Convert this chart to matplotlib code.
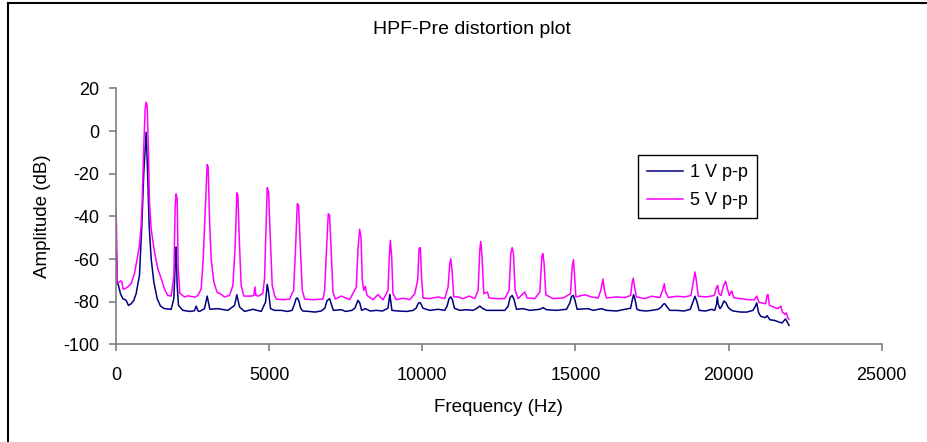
import matplotlib
matplotlib.use("Agg")
import matplotlib.pyplot as plt
from matplotlib.lines import Line2D

plt.rcParams["font.family"] = ["Liberation Sans", "DejaVu Sans"]

# spectrum, 1 V p-p (navy)
freq_1v = [
    0, 38, 81, 147, 223, 332, 408, 495, 582, 658,
    767, 844, 909, 985, 1029, 1083, 1149, 1236, 1345, 1454,
    1584, 1802, 1889, 1933, 1965, 1998, 2042, 2183, 2401, 2560,
    2619, 2680, 2728, 2891, 2978, 3065, 3327, 3653, 3871, 3947,
    4034, 4198, 4470, 4742, 4884, 4938, 4982, 5047, 5178, 5400,
    5600, 5750, 5830, 5880, 5920, 5970, 6030, 6100, 6300, 6500,
    6700, 6820, 6890, 6976, 7040, 7100, 7357, 7500, 7700, 7800,
    7870, 7902, 7960, 8020, 8140, 8300, 8500, 8700, 8880, 8925,
    8940, 8965, 9010, 9200, 9500, 9700, 9800, 9860, 9895, 9940,
    10027, 10245, 10517, 10735, 10811, 10876, 10931, 10985, 11050, 11225,
    11443, 11660, 11791, 11878, 11965, 12096, 12422, 12695, 12804, 12869,
    12935, 13000, 13076, 13294, 13511, 13838, 13947, 14056, 14383, 14710,
    14819, 14873, 14927, 14982, 15058, 15417, 15581, 15690, 15853, 16017,
    16343, 16560, 16800, 16845, 16900, 16950, 17010, 17100, 17300, 17500,
    17700, 17800, 17880, 17920, 18000, 18080, 18300, 18550, 18750, 18840,
    18905, 18970, 19040, 19250, 19450, 19550, 19610, 19634, 19660, 19720,
    19780, 19850, 19920, 19980, 20050, 20150, 20400, 20600, 20800, 20880,
    20920, 20980, 21050, 21200, 21260, 21350, 21500, 21650, 21750, 21860,
    21900, 21976,
]
db_1v = [
    -50, -70.7, -72.3, -76.2, -78.5, -79.3, -81.7, -80.9, -79.3, -76.2,
    -67.6, -44.2, -19.2, -0.5, -17.6, -44.2, -59.8, -70.7, -78.5, -82,
    -83.2, -83.5, -78.5, -62.9, -54.3, -72.3, -81.7, -84, -84.5, -84.2,
    -82, -84.3, -84.5, -83.2, -77.3, -83.5, -83.2, -84, -81.7, -76.7,
    -82.4, -84.5, -83.5, -84.5, -80.1, -71.8, -75.4, -83.2, -84, -84,
    -84.5, -84, -81, -78.5, -78.2, -79.5, -83, -84.3, -84.5, -84.8,
    -84.3, -83, -79.5, -78.5, -81.5, -84, -83.7, -84.5, -84, -83,
    -80.5, -79.3, -80.5, -84, -83.2, -84.3, -84, -84.3, -83, -78,
    -76.6, -79, -84, -84.3, -84.5, -84, -83, -81, -80.4, -80.5,
    -83, -84, -83.5, -84, -82, -78.5, -77.7, -79, -83, -84,
    -83.7, -84, -83, -82, -83, -84, -84, -84, -82, -78,
    -77, -79, -83.5, -83.2, -84, -83.5, -82.7, -83.7, -84, -83.5,
    -80.5, -77.5, -77, -79, -83.5, -83.2, -84, -83.7, -83.2, -84,
    -84.3, -83.7, -83, -80, -76.6, -79, -83.5, -84, -84.3, -84,
    -83.5, -82.5, -81, -80.9, -82.5, -84, -84, -84.3, -83.5, -80,
    -77.4, -80, -84, -84.3, -83.5, -84, -81, -77.7, -81, -83.2,
    -82, -79.6, -80.5, -82.4, -83.5, -84.3, -84.8, -84.8, -84, -82,
    -80.5, -85, -86.8, -87.4, -86.5, -88.4, -88.7, -89.5, -89.9, -88,
    -89, -91,
]

# spectrum, 5 V p-p (magenta)
freq_5v = [
    0, 16, 45, 100, 150, 190, 234, 300, 386, 495,
    604, 713, 767, 822, 855, 909, 953, 985, 1018, 1061,
    1094, 1149, 1258, 1366, 1475, 1584, 1693, 1802, 1889, 1933,
    1965, 1998, 2031, 2085, 2238, 2350, 2456, 2580, 2673, 2782,
    2847, 2913, 2978, 3011, 3054, 3109, 3196, 3305, 3381, 3544,
    3708, 3817, 3893, 3947, 3980, 4034, 4089, 4176, 4416, 4503,
    4536, 4568, 4655, 4797, 4851, 4906, 4938, 4982, 5036, 5102,
    5178, 5234, 5452, 5669, 5800, 5865, 5920, 5963, 6018, 6083,
    6160, 6432, 6758, 6813, 6878, 6932, 6976, 7030, 7085, 7161,
    7357, 7630, 7847, 7902, 7956, 8000, 8043, 8087, 8141, 8196,
    8392, 8555, 8719, 8882, 8925, 8958, 9002, 9045, 9154, 9372,
    9590, 9753, 9851, 9895, 9938, 9982, 10027, 10245, 10517, 10735,
    10844, 10898, 10931, 10974, 11029, 11170, 11334, 11530, 11715, 11824,
    11878, 11911, 11954, 12009, 12129, 12183, 12422, 12695, 12836, 12891,
    12935, 12978, 13032, 13130, 13348, 13424, 13675, 13838, 13904, 13936,
    13980, 14034, 14274, 14601, 14840, 14895, 14938, 14971, 15015, 15309,
    15526, 15744, 15831, 15897, 15951, 16017, 16343, 16618, 16803, 16857,
    16890, 16934, 16988, 17271, 17489, 17761, 17848, 17903, 17946, 18033,
    18306, 18578, 18774, 18839, 18905, 18948, 19013, 19286, 19536, 19612,
    19645, 19688, 19754, 19841, 19906, 19961, 20026, 20102, 20168, 20375,
    20647, 20843, 20919, 20995, 21104, 21213, 21257, 21290, 21333, 21464,
    21605, 21681, 21703, 21758, 21845, 21888, 21932, 21976,
]
db_5v = [
    -36.4, -44, -70.7, -70.8, -70.2, -70.5, -74.1, -73.8, -73, -71.5,
    -66.8, -58.2, -53.5, -44.2, -33.3, -6.7, 10.5, 13.6, 12, -9.8,
    -33.3, -45.8, -56.7, -64.5, -69, -74, -77, -77.3, -68, -35,
    -29.4, -32, -64, -76, -77.7, -77.2, -77.5, -77.8, -77, -74,
    -60, -38, -15.7, -16.8, -41, -60, -70.7, -75.7, -76, -77.7,
    -77, -72.4, -53.7, -28.9, -30, -53.7, -72.4, -77.3, -77.3, -77,
    -73, -77, -77.3, -76, -69, -41, -26.5, -28.5, -49, -72.4,
    -77, -78.7, -79, -78.7, -74.6, -54.3, -34, -34.8, -54.3, -74.6,
    -78.7, -79, -78.7, -74.6, -54.3, -38.7, -39.5, -57.4, -75.4, -78.7,
    -77.3, -79, -73.1, -55, -46, -49.6, -69.9, -74.6, -72.7, -77,
    -79, -76.6, -79.1, -74.6, -59, -51.2, -59, -76.2, -79, -78.3,
    -79, -76.2, -69.9, -55.1, -54.6, -69.9, -78.2, -78.5, -77.7, -78.5,
    -73, -62.1, -59.8, -65.3, -77.7, -77.7, -78.5, -77.3, -78.5, -74.6,
    -55.9, -51.7, -59, -76.2, -75.4, -78.2, -78.5, -78.5, -74.6, -57.4,
    -54.6, -57.4, -74.6, -78.5, -75.4, -78.2, -78.5, -75.4, -59, -57.4,
    -62.1, -76.7, -78.5, -78.2, -76.2, -63.7, -60.2, -67.2, -77.7, -76.7,
    -77.7, -78.2, -74.6, -69.3, -74.6, -78.2, -77.7, -78, -77, -70.7,
    -68.9, -73.1, -77.7, -78.5, -77.4, -78, -74.6, -71.5, -75.4, -78,
    -77.4, -77.7, -77, -71.5, -66, -69.9, -77.4, -77.7, -77, -73.1,
    -72.3, -76.2, -77, -72.3, -70.4, -73.8, -77, -74.9, -78, -78.5,
    -79, -79, -77.3, -80.1, -80.6, -80.9, -77, -76.6, -81.6, -82.4,
    -83.2, -82.4, -82, -84.8, -85.9, -85.2, -87.4, -88.2,
]

series_labels = ["1 V p-p", "5 V p-p"]
x_ticks = [0, 5000, 10000, 15000, 20000, 25000]
y_ticks = [-100, -80, -60, -40, -20, 0, 20]

NAVY = "#000080"
MAGENTA = "#FF00FF"
GRAY = "#808080"

fig = plt.figure(figsize=(9.27, 4.42), dpi=100)
ax = fig.add_axes([0.1251, 0.2206, 0.826, 0.5792])

ax.plot(freq_1v, db_1v, color=NAVY, lw=1.1)
ax.plot(freq_5v, db_5v, color=MAGENTA, lw=1.1)

ax.set_xlim(0, 25000)
ax.set_ylim(-100, 20)
ax.set_xticks(x_ticks)
ax.set_yticks(y_ticks)
ax.set_xticklabels([str(t) for t in x_ticks])
ax.set_yticklabels([str(t) for t in y_ticks])
for side in ("top", "right"):
    ax.spines[side].set_visible(False)
for side in ("left", "bottom"):
    ax.spines[side].set_color(GRAY)
    ax.spines[side].set_linewidth(1.2)
ax.tick_params(direction="out", length=5, width=1.2, color=GRAY, labelsize=13)
ax.tick_params(axis="y", pad=7)
ax.tick_params(axis="x", pad=11)

fig.text(0.509, 0.934, "HPF-Pre distortion plot", ha="center", va="center", fontsize=14)
fig.text(0.538, 0.077, "Frequency (Hz)", ha="center", va="center", fontsize=13.5)
fig.text(0.046, 0.511, "Amplitude (dB)", ha="center", va="center", rotation=90, fontsize=13.5)

handles = [Line2D([], [], color=NAVY, lw=1.1), Line2D([], [], color=MAGENTA, lw=1.1)]
leg = fig.legend(handles, series_labels, loc="upper left", bbox_to_anchor=(0.688, 0.649),
                 fontsize=13, frameon=True, fancybox=False, framealpha=1, edgecolor="black",
                 borderpad=0.5, handlelength=2.0, handletextpad=0.4, labelspacing=0.6,
                 borderaxespad=0)
leg.get_frame().set_linewidth(1.0)

# chart border (left and top edges visible in the reference)
fig.add_artist(Line2D([0.009, 0.009], [0, 0.993], color="black", lw=1.5))
fig.add_artist(Line2D([0.009, 1.0], [0.993, 0.993], color="black", lw=1.5))

fig.savefig("out.png", dpi=100)
